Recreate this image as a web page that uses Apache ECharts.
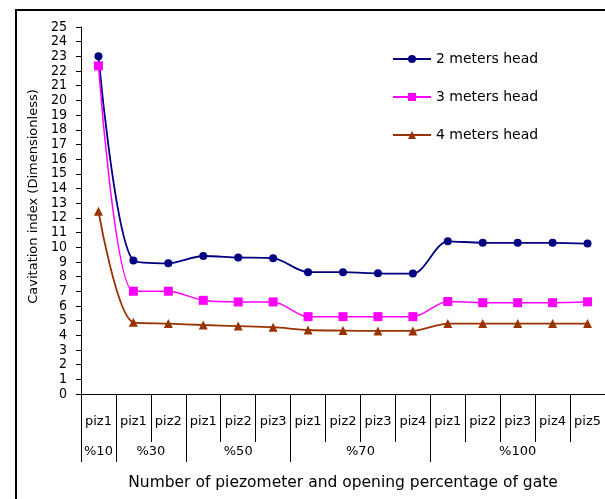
<!DOCTYPE html>
<html>
<head>
<meta charset="utf-8">
<script src="https://cdn.jsdelivr.net/npm/echarts@6/dist/echarts.min.js"></script>
<style>
html,body{margin:0;padding:0;background:#fff;}
#c{width:605px;height:499px;}
</style>
</head>
<body>
<div id="c"></div>
<script>
var categories = ["piz1","piz1","piz2","piz1","piz2","piz3","piz1","piz2","piz3","piz4","piz1","piz2","piz3","piz4","piz5"];
var groupNames = ["%10","%30","%50","%70","%100"];
var groupSizes = [1,2,3,4,5];
var head2 = [23.0, 9.1, 8.9, 9.4, 9.3, 9.25, 8.3, 8.3, 8.22, 8.2, 10.4, 10.3, 10.3, 10.3, 10.25];
var head3 = [22.35, 7.0, 7.0, 6.38, 6.27, 6.27, 5.27, 5.27, 5.27, 5.27, 6.3, 6.22, 6.22, 6.22, 6.28];
var head4 = [12.45, 4.88, 4.8, 4.7, 4.63, 4.55, 4.36, 4.32, 4.3, 4.3, 4.8, 4.8, 4.8, 4.8, 4.8];
var seriesNames = ["2 meters head","3 meters head","4 meters head"];

// half-step positions for the group axis (boundaryGap false): index k <-> category position -0.5 + k/2
var halfSlots = [];
for (var k = 0; k <= categories.length * 2; k++) halfSlots.push(String(k));
var boundaryIdx = {0:true};
var labelIdx = {};
var start = 0;
for (var g = 0; g < groupSizes.length; g++) {
  var end = start + groupSizes[g];
  boundaryIdx[end * 2] = true;
  labelIdx[start + end] = groupNames[g];
  start = end;
}

var narrow = "'DejaVu Sans Condensed','DejaVu Sans',sans-serif";
var wide = "'DejaVu Sans',sans-serif";
var chart = echarts.init(document.getElementById('c'));
chart.setOption({
  animation: false,
  backgroundColor: '#fff',
  graphic: [{
    type: 'rect', shape: {x: 16, y: 10, width: 620, height: 520},
    style: {fill: 'none', stroke: '#000', lineWidth: 2}, silent: true
  }],
  grid: {left: 81, top: 27, bottom: 105, right: -8.5, containLabel: false},
  legend: {
    orient: 'vertical', left: 387, top: 47, itemGap: 24,
    itemWidth: 38, itemHeight: 10,
    textStyle: {fontFamily: wide, fontSize: 14, color: '#000'},
    data: seriesNames
  },
  xAxis: [{
    type: 'category', data: categories, position: 'bottom',
    axisLine: {lineStyle: {color: '#000', width: 1}},
    axisTick: {show: true, interval: 0, length: 48, lineStyle: {color: '#000'}},
    axisLabel: {interval: 0, margin: 21, color: '#000', fontSize: 13, fontFamily: wide}
  }, {
    type: 'category', data: halfSlots, position: 'bottom', boundaryGap: false,
    axisLine: {show: false},
    axisTick: {show: true, length: 68, lineStyle: {color: '#000'},
      interval: function (i) { return !!boundaryIdx[i]; }},
    axisLabel: {margin: 51, color: '#000', fontSize: 13, fontFamily: wide,
      interval: function (i) { return labelIdx[i] !== undefined; },
      formatter: function (v, i) { return labelIdx[i] || ''; }},
    name: 'Number of piezometer and opening percentage of gate',
    nameLocation: 'middle', nameGap: 81,
    nameTextStyle: {color: '#000', fontSize: 15.5, fontFamily: wide}
  }],
  yAxis: {
    type: 'value', min: 0, max: 25, interval: 1,
    axisLine: {show: true, lineStyle: {color: '#000'}},
    axisTick: {show: true, length: 5, lineStyle: {color: '#000'}},
    splitLine: {show: false},
    axisLabel: {margin: 14, color: '#000', fontSize: 14, fontFamily: narrow},
    name: 'Cavitation index (Dimensionless)', nameLocation: 'middle', nameGap: 39,
    nameTextStyle: {color: '#000', fontSize: 13, fontFamily: wide, padding: [0, 0, 0, 28]}
  },
  series: [{
    name: seriesNames[0], type: 'line', data: head2, smooth: 0.3, smoothConstraint: false,
    symbol: 'circle', symbolSize: 8,
    itemStyle: {color: '#000080'}, lineStyle: {color: '#000080', width: 1.8}
  }, {
    name: seriesNames[1], type: 'line', data: head3, smooth: 0.3, smoothConstraint: false,
    symbol: 'rect', symbolSize: 9,
    itemStyle: {color: '#ff00ff'}, lineStyle: {color: '#ff00ff', width: 1.5}
  }, {
    name: seriesNames[2], type: 'line', data: head4, smooth: 0.3, smoothConstraint: false,
    symbol: 'triangle', symbolSize: 9,
    itemStyle: {color: '#993300'}, lineStyle: {color: '#993300', width: 1.8}
  }]
});
</script>
</body>
</html>
